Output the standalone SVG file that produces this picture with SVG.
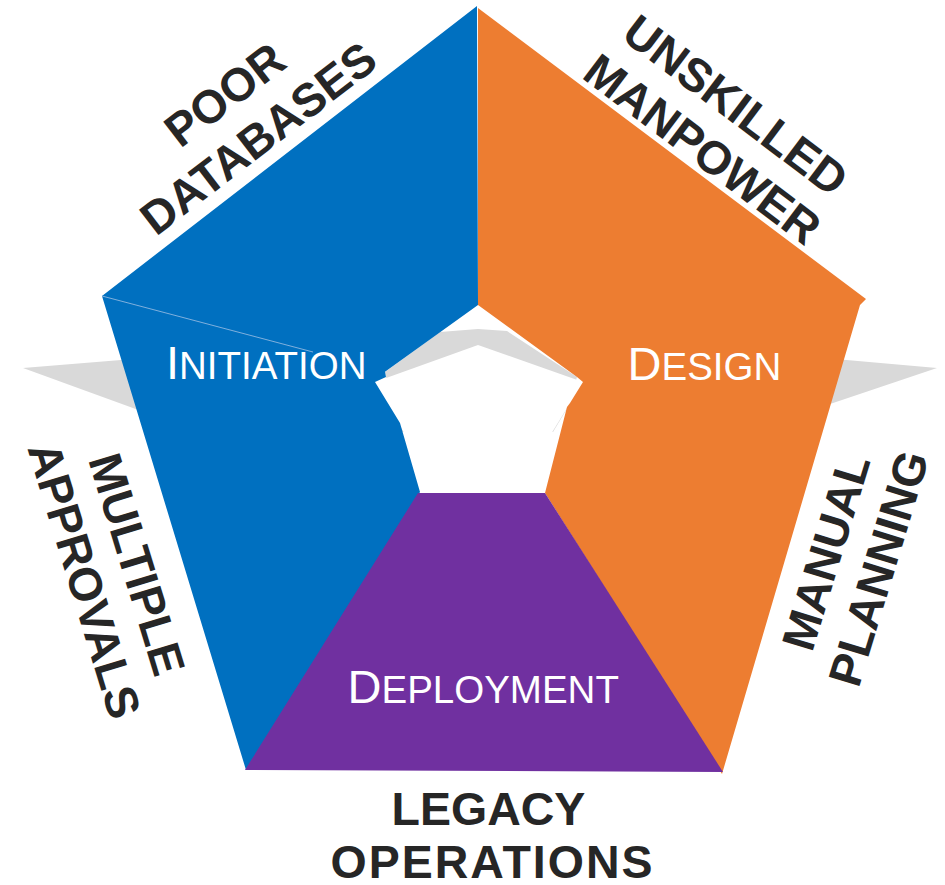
<svg xmlns="http://www.w3.org/2000/svg" width="945" height="885" viewBox="0 0 945 885">
  <style>
    .shadow { fill: #D9D9D9; }
    .hole { fill: #FFFFFF; }
    .blue { fill: #0070C0; }
    .orange { fill: #ED7D31; }
    .purple { fill: #7030A0; }
    .stage { font-family: "Liberation Sans", Arial, sans-serif; font-size: 38.5px; fill: #FFFFFF; }
    .big { font-size: 47px; }
    .lbl { font-family: "Liberation Sans", Arial, sans-serif; font-weight: bold; font-size: 46.5px; fill: #262626; text-anchor: middle; }
  </style>

  <g id="shadow">
    <polygon class="shadow" points="23,368 170,356 170,421.5"/>
    <polygon class="shadow" points="937,368 790,355 790,417.5"/>
    <polygon class="shadow" points="385,372 440,332 478,329 507,331 577,377 568,407 553,432 398,432"/>
    <polygon class="hole" points="375,382 478,345 583,382 540,452 415,452"/>
  </g>

  <g id="initiation">
    <polygon class="blue" points="477,6 478,305 385,371.7 386,377 375,382 400,423 420,492 246,770 102,296"/>
    <line x1="102" y1="296" x2="313" y2="352" stroke="#7FB0DD" stroke-width="1"/>
    <text class="stage" x="166" y="379"><tspan class="big">I</tspan>NITIATION</text>
  </g>

  <g id="design">
    <polygon class="orange" points="478,8 866,299 860,305 722,774 545,493 567,407 570,403 583,382 577,377 478,305"/>
    <text class="stage" x="627.5" y="380"><tspan class="big">D</tspan>ESIGN</text>
  </g>

  <g id="deployment">
    <polygon class="purple" points="418,493 545,493 723,772 245,770"/>
    <text class="stage" x="347.5" y="702.5"><tspan class="big">D</tspan>EPLOYMENT</text>
  </g>

  <g id="poor-databases" transform="translate(268,151) rotate(-37.5)">
    <text class="lbl" x="0" y="-55">POOR</text>
    <text class="lbl" x="0" y="0">DATABASES</text>
  </g>

  <g id="unskilled-manpower" transform="translate(693,162) rotate(37)">
    <text class="lbl" x="0" y="-55">UNSKILLED</text>
    <text class="lbl" x="0" y="0">MANPOWER</text>
  </g>

  <g id="multiple-approvals" transform="translate(69,585) rotate(73)">
    <text class="lbl" x="0" y="-55">MULTIPLE</text>
    <text class="lbl" x="0" y="0">APPROVALS</text>
  </g>

  <g id="manual-planning" transform="translate(894,573) rotate(-73)">
    <text class="lbl" x="0" y="-55">MANUAL</text>
    <text class="lbl" x="0" y="0">PLANNING</text>
  </g>

  <g id="legacy-operations">
    <text class="lbl" x="488.5" y="825">LEGACY</text>
    <text class="lbl" x="491.5" y="877.5" textLength="322" lengthAdjust="spacing">OPERATIONS</text>
  </g>
</svg>
